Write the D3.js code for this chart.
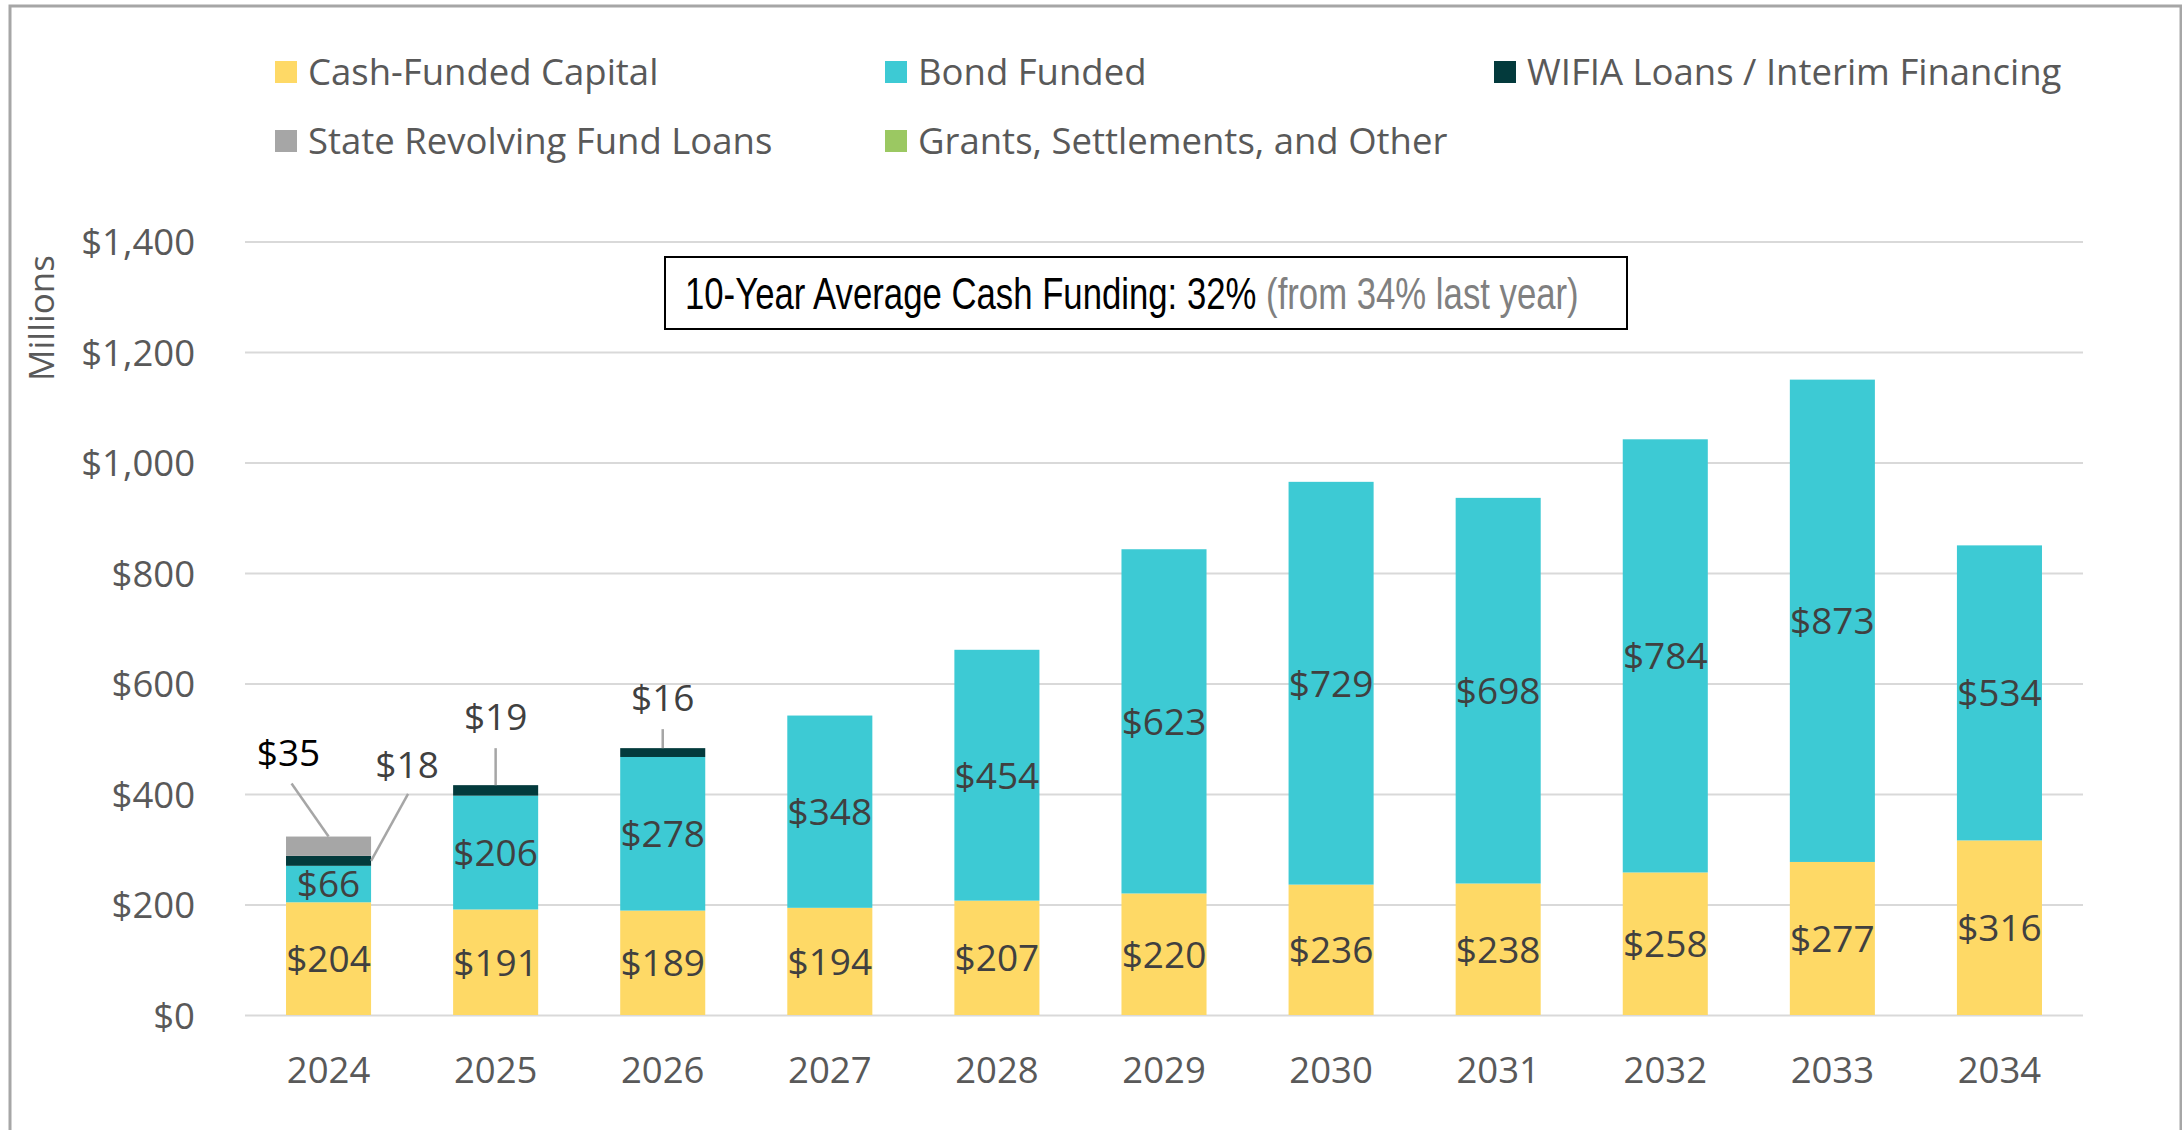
<!DOCTYPE html>
<html>
<head>
<meta charset="utf-8">
<script src="https://cdn.jsdelivr.net/npm/d3@7/dist/d3.min.js"></script>
<style>
  html, body { margin: 0; padding: 0; background: #ffffff; }
  svg { display: block; }
</style>
</head>
<body>
<svg id="chart" width="2182" height="1130"></svg>
<script>
// ---------------- DATA ----------------
const years = ['2024','2025','2026','2027','2028','2029','2030','2031','2032','2033','2034'];
const cashFunded     = [204, 191, 189, 194, 207, 220, 236, 238, 258, 277, 316];
const bondFunded     = [66, 206, 278, 348, 454, 623, 729, 698, 784, 873, 534];
const wifiaLoans     = [18, 19, 16, 0, 0, 0, 0, 0, 0, 0, 0];
const stateRevolving = [35, 0, 0, 0, 0, 0, 0, 0, 0, 0, 0];
const grantsOther    = [0, 0, 0, 0, 0, 0, 0, 0, 0, 0, 0];
const seriesNames = ['Cash-Funded Capital', 'Bond Funded', 'WIFIA Loans / Interim Financing',
                     'State Revolving Fund Loans', 'Grants, Settlements, and Other'];
const yTicks = [0, 200, 400, 600, 800, 1000, 1200, 1400];
const yAxisTitle = 'Millions';
const noteMain = '10-Year Average Cash Funding: 32%';
const noteSub = ' (from 34% last year)';

// ---------------- STYLE / LAYOUT ----------------
const colors = ['#FED966', '#3DCAD4', '#033A3C', '#A6A6A6', '#9BC862'];
const W = 2182, H = 1130;
const plot = { left: 245, right: 2083, top: 241.5, bottom: 1015 };
const baseFont = '"Open Sans", "Noto Sans", sans-serif';

// callout layout (pixel offsets from segment anchor)
const callouts = [
  { cat: 0, key: 3, anchor: 'top',   line: [-37, -53], text: [-40, -84], color: '#000000' },
  { cat: 0, key: 2, anchor: 'right', line: [37, -67],  text: [36, -96],  color: '#404040' },
  { cat: 1, key: 2, anchor: 'top',   line: [0, -37],   text: [0, -68],   color: '#404040' },
  { cat: 2, key: 2, anchor: 'top',   line: [0, -19],   text: [0, -50],   color: '#404040' }
];

const svg = d3.select('#chart');
svg.append('rect').attr('x', 0).attr('y', 0).attr('width', W).attr('height', H).attr('fill', '#ffffff');
// outer frame
svg.append('rect').attr('x', 10).attr('y', 6).attr('width', 2171).attr('height', 1300)
  .attr('fill', 'none').attr('stroke', '#A6A6A6').attr('stroke-width', 3);

const keys = ['cash', 'bond', 'wifia', 'srf', 'grants'];
const table = years.map((y, i) => ({
  year: y, cash: cashFunded[i], bond: bondFunded[i], wifia: wifiaLoans[i],
  srf: stateRevolving[i], grants: grantsOther[i]
}));

const x = d3.scaleBand().domain(years).range([plot.left, plot.right])
  .paddingInner(0.491).paddingOuter(0.2455);
const y = d3.scaleLinear().domain([0, 1400]).range([plot.bottom, plot.top]);

// gridlines + y labels
const yAxis = d3.axisLeft(y).tickValues(yTicks)
  .tickSize(-(plot.right - plot.left)).tickPadding(50)
  .tickFormat(d => '$' + d3.format(',')(d));
const gy = svg.append('g').attr('transform', `translate(${plot.left},0)`).call(yAxis);
gy.select('.domain').remove();
gy.selectAll('.tick line').attr('stroke', '#D9D9D9').attr('stroke-width', 2.2);
gy.selectAll('.tick text').attr('fill', '#595959').style('font-family', baseFont)
  .style('font-size', '36.5px').attr('dy', '0.36em');

// x axis labels
const xAxis = d3.axisBottom(x).tickSize(0).tickPadding(42);
const gx = svg.append('g').attr('transform', `translate(0,${plot.bottom})`).call(xAxis);
gx.select('.domain').remove();
gx.selectAll('.tick text').attr('fill', '#595959').style('font-family', baseFont)
  .style('font-size', '36.5px');

// y title
svg.append('text').attr('transform', 'translate(54,318) rotate(-90)')
  .attr('text-anchor', 'middle').attr('fill', '#595959')
  .style('font-family', baseFont).style('font-size', '35px').text(yAxisTitle);

// bars
const stack = d3.stack().keys(keys)(table);
const layers = svg.append('g').selectAll('g').data(stack).join('g')
  .attr('fill', (d, i) => colors[i]);
layers.selectAll('rect').data(d => d).join('rect')
  .attr('x', d => x(d.data.year))
  .attr('width', x.bandwidth())
  .attr('y', d => y(d[1]))
  .attr('height', d => Math.max(0, y(d[0]) - y(d[1])));

// inside labels for cash & bond
const labelG = svg.append('g');
[0, 1].forEach(k => {
  stack[k].forEach(d => {
    const v = d[1] - d[0];
    if (v <= 0) return;
    labelG.append('text')
      .attr('x', x(d.data.year) + x.bandwidth() / 2)
      .attr('y', (y(d[0]) + y(d[1])) / 2)
      .attr('dy', '0.36em')
      .attr('text-anchor', 'middle')
      .attr('fill', '#404040')
      .style('font-family', baseFont).style('font-size', '37px')
      .text('$' + v);
  });
});

// callouts
callouts.forEach(c => {
  const d = stack[c.key][c.cat];
  const v = d[1] - d[0];
  const bx = x(d.data.year), bw = x.bandwidth();
  let ax, ay;
  if (c.anchor === 'top') { ax = bx + bw / 2; ay = y(d[1]); }
  else { ax = bx + bw; ay = (y(d[0]) + y(d[1])) / 2; }
  svg.append('line').attr('x1', ax).attr('y1', ay)
    .attr('x2', ax + c.line[0]).attr('y2', ay + c.line[1])
    .attr('stroke', '#A6A6A6').attr('stroke-width', 2.5);
  svg.append('text').attr('x', ax + c.text[0]).attr('y', ay + c.text[1])
    .attr('dy', '0.36em').attr('text-anchor', 'middle').attr('fill', c.color)
    .style('font-family', baseFont).style('font-size', '37px').text('$' + v);
});

// legend
const legendPos = [[275, 72], [885, 72], [1494, 72], [275, 141], [885, 141]];
const lg = svg.append('g');
seriesNames.forEach((name, i) => {
  const [lx, ly] = legendPos[i];
  lg.append('rect').attr('x', lx).attr('y', ly - 11).attr('width', 22).attr('height', 22)
    .attr('fill', colors[i]);
  lg.append('text').attr('x', lx + 33).attr('y', ly).attr('dy', '0.36em')
    .attr('fill', '#595959').style('font-family', baseFont).style('font-size', '36.5px')
    .text(name);
});

// annotation box
svg.append('rect').attr('x', 665).attr('y', 257).attr('width', 962).attr('height', 72)
  .attr('fill', '#ffffff').attr('stroke', '#000000').attr('stroke-width', 2);
const noteG = svg.append('g');
const note = noteG.append('text').attr('x', 0).attr('y', 0)
  .style('font-family', '"Liberation Sans", Arial, sans-serif')
  .style('font-size', '44px');
note.append('tspan').attr('fill', '#000000').text(noteMain);
note.append('tspan').attr('fill', '#808080').text(noteSub);
const noteLen = note.node().getComputedTextLength();
const noteScale = 894 / noteLen;
noteG.attr('transform', `translate(685,309) scale(${noteScale},1)`);
</script>
</body>
</html>
